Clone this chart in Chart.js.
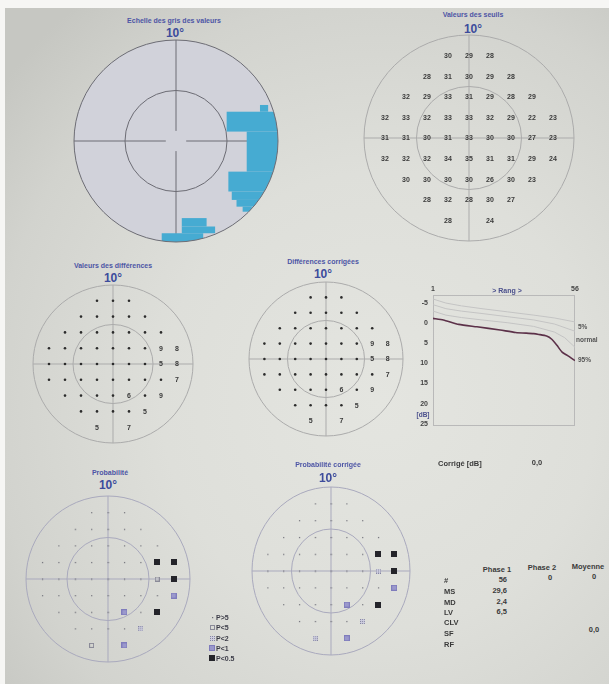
<!DOCTYPE html>
<html lang="fr">
<head>
<meta charset="utf-8">
<title>Champ visuel – Octopus</title>
<script src="https://cdn.jsdelivr.net/npm/chart.js@4.4.1/dist/chart.umd.min.js"></script>
<style>
  html, body { margin: 0; padding: 0; }
  body {
    width: 609px; height: 684px; position: relative; overflow: hidden;
    background: #f6f6f4;
    font-family: "Liberation Sans", Arial, sans-serif;
  }
  #paper {
    position: absolute; left: 5px; top: 8px; width: 604px; height: 676px;
    background: radial-gradient(ellipse 80% 75% at 62% 58%, #e4e5e0 0%, #dedfda 45%, #d2d3ce 80%, #c6c7c2 100%);
  }
  canvas { position: absolute; }
  .lbl { position: absolute; white-space: nowrap; font-weight: bold; line-height: 1; }
</style>
</head>
<body>
<div id="paper"></div>
<script>
// ---------------------------------------------------------------
// Test locations: rows from top to bottom, x/y in degrees
// ---------------------------------------------------------------
const rowY = [24, 18, 12, 6, 0, -6, -12, -18, -24];
const rowX = [
  [-6, 0, 6],
  [-12, -6, 0, 6, 12],
  [-18, -12, -6, 0, 6, 12, 18],
  [-24, -18, -12, -6, 0, 6, 12, 18, 24],
  [-24, -18, -12, -6, 0, 6, 12, 18, 24],
  [-24, -18, -12, -6, 0, 6, 12, 18, 24],
  [-18, -12, -6, 0, 6, 12, 18],
  [-12, -6, 0, 6, 12],
  [-6, 6]
];

// Threshold values [dB]
const thresholds = [
  [30, 29, 28],
  [28, 31, 30, 29, 28],
  [32, 29, 33, 31, 29, 28, 29],
  [32, 33, 32, 33, 33, 32, 29, 22, 23],
  [31, 31, 30, 31, 33, 30, 30, 27, 23],
  [32, 32, 32, 34, 35, 31, 31, 29, 24],
  [30, 30, 30, 30, 26, 30, 23],
  [28, 32, 28, 30, 27],
  [28, 24]
];

// Differences to age norm [dB]; null = within normal limits (printed as a dot)
const differences = [
  [null, null, null],
  [null, null, null, null, null],
  [null, null, null, null, null, null, null],
  [null, null, null, null, null, null, null, 9, 8],
  [null, null, null, null, null, null, null, 5, 8],
  [null, null, null, null, null, null, null, null, 7],
  [null, null, null, null, 6, null, 9],
  [null, null, null, null, 5],
  [5, 7]
];
const correctedDifferences = [
  [null, null, null],
  [null, null, null, null, null],
  [null, null, null, null, null, null, null],
  [null, null, null, null, null, null, null, 9, 8],
  [null, null, null, null, null, null, null, 5, 8],
  [null, null, null, null, null, null, null, null, 7],
  [null, null, null, null, 6, null, 9],
  [null, null, null, null, 5],
  [5, 7]
];

// Probability classes: 0 = P>5, 1 = P<5, 2 = P<2, 3 = P<1, 4 = P<0.5
const probLabels = ['P>5', 'P<5', 'P<2', 'P<1', 'P<0.5'];
const probability = [
  [0, 0, 0],
  [0, 0, 0, 0, 0],
  [0, 0, 0, 0, 0, 0, 0],
  [0, 0, 0, 0, 0, 0, 0, 4, 4],
  [0, 0, 0, 0, 0, 0, 0, 1, 4],
  [0, 0, 0, 0, 0, 0, 0, 0, 3],
  [0, 0, 0, 0, 3, 0, 4],
  [0, 0, 0, 0, 2],
  [1, 3]
];
const correctedProbability = [
  [0, 0, 0],
  [0, 0, 0, 0, 0],
  [0, 0, 0, 0, 0, 0, 0],
  [0, 0, 0, 0, 0, 0, 0, 4, 4],
  [0, 0, 0, 0, 0, 0, 0, 2, 4],
  [0, 0, 0, 0, 0, 0, 0, 0, 3],
  [0, 0, 0, 0, 3, 0, 4],
  [0, 0, 0, 0, 2],
  [2, 3]
];

// Gray-scale map: cells of the depressed band [x0, x1, y0, y1] in degrees
const depressedCells = [
  [24.7, 27.1, 8.7, 10.7],
  [14.9, 30, 2.8, 8.7],
  [20.8, 30, -9.1, 2.8],
  [15.4, 30, -15.0, -9.1],
  [16.4, 27.1, -17.5, -15.0],
  [17.8, 25.7, -19.5, -17.5],
  [19.6, 22.3, -21.0, -19.5],
  [1.7, 9.0, -25.4, -22.9],
  [1.7, 11.5, -27.4, -25.4],
  [-4.2, 8.0, -30, -27.4]
];

// Cumulative defect curve (rank, dB)
const rankTicks = [1, 56];
const dbTicks = [-5, 0, 5, 10, 15, 20, 25];
const curvePatient = [[1, -1.2], [5, -0.8], [11, 0.3], [18, 0.9], [27, 1.7], [33, 2.3], [40, 2.6], [42, 2.8], [45, 3.2], [47, 4.0], [49, 5.5], [51, 7.2], [53, 8.0], [56, 9.3]];
const curve5 = [[1, -6.0], [6, -5.0], [12, -4.3], [20, -3.6], [30, -2.8], [40, -2.0], [48, -1.3], [56, -0.3]];
const curveNormal = [[1, -4.6], [6, -3.6], [12, -3.0], [20, -2.4], [30, -1.6], [40, -0.8], [48, 0.2], [56, 2.0]];
const curve95 = [[1, -3.0], [6, -2.0], [12, -1.4], [20, -0.8], [30, -0.1], [40, 0.8], [48, 2.2], [52, 3.6], [56, 6.0]];

// Summary indices
const statNames = ['#', 'MS', 'MD', 'LV', 'CLV', 'SF', 'RF'];
const phase1 = ['56', '29,6', '2,4', '6,5', '', '', ''];
const phase2 = ['0', '', '', '', '', '', ''];
const moyenne = ['0', '', '', '', '', '0,0', ''];
const correctionDb = '0,0';

// ---------------------------------------------------------------
// Helpers
// ---------------------------------------------------------------
const FONT = '"Liberation Sans", Arial, sans-serif';

function locations(rows) {
  const out = [];
  rows.forEach((r, i) => r.forEach((v, j) => out.push({ x: rowX[i][j], y: rowY[i], v })));
  return out;
}

function text(str, x, y, opt = {}) {
  const d = document.createElement('div');
  d.className = 'lbl';
  d.textContent = str;
  d.style.left = x + 'px';
  d.style.top = y + 'px';
  d.style.fontSize = (opt.size || 7) + 'px';
  d.style.color = opt.color || '#3a3a3a';
  const tx = opt.align === 'left' ? '0' : opt.align === 'right' ? '-100%' : '-50%';
  d.style.transform = `translate(${tx}, -50%)`;
  document.body.appendChild(d);
  return d;
}

// circles, cross-hair, optional fill and gray-scale cells
const fieldPlugin = {
  id: 'field',
  beforeDatasetsDraw(chart, args, o) {
    const { ctx } = chart;
    const xs = chart.scales.x, ys = chart.scales.y;
    const cx = xs.getPixelForValue(0), cy = ys.getPixelForValue(0);
    const rx = xs.getPixelForValue(30) - cx, ry = cy - ys.getPixelForValue(30);
    const ring = (k) => { ctx.beginPath(); ctx.ellipse(cx, cy, rx * k, ry * k, 0, 0, Math.PI * 2); };
    ctx.save();
    if (o.fill) { ring(1); ctx.fillStyle = o.fill; ctx.fill(); }
    ctx.strokeStyle = o.color; ctx.lineWidth = o.width || 1;
    ring(0.5); ctx.stroke();
    const gx = xs.getPixelForValue(o.gap || 0) - cx, gy = cy - ys.getPixelForValue(o.gap || 0);
    ctx.beginPath();
    ctx.moveTo(cx - rx, cy); ctx.lineTo(cx - gx, cy);
    ctx.moveTo(cx + gx, cy); ctx.lineTo(cx + rx, cy);
    ctx.moveTo(cx, cy - ry); ctx.lineTo(cx, cy - gy);
    ctx.moveTo(cx, cy + gy); ctx.lineTo(cx, cy + ry);
    ctx.stroke();
    if (o.cells) {
      ctx.save();
      ring(1); ctx.clip();
      ctx.fillStyle = o.cellColor;
      o.cells.forEach(c => {
        const x0 = xs.getPixelForValue(c[0]), x1 = xs.getPixelForValue(c[1]);
        const y0 = ys.getPixelForValue(c[3]), y1 = ys.getPixelForValue(c[2]);
        ctx.fillRect(x0, y0, x1 - x0, y1 - y0);
      });
      ctx.restore();
    }
    ring(1); ctx.stroke();
    ctx.restore();
  }
};

// prints each point's value at its position
const valueLabels = {
  id: 'valueLabels',
  afterDatasetsDraw(chart) {
    const { ctx } = chart;
    chart.data.datasets.forEach((ds, i) => {
      if (!ds.valueLabels) return;
      const meta = chart.getDatasetMeta(i);
      ctx.save();
      ctx.font = 'bold 7px ' + FONT;
      ctx.fillStyle = ds.labelColor || '#3a3a3a';
      ctx.textAlign = 'center';
      ctx.textBaseline = 'middle';
      meta.data.forEach((el, j) => ctx.fillText(String(ds.data[j].v), el.x, el.y + 0.5));
      ctx.restore();
    });
  }
};

function fieldChart(cx, cy, rx, ry, datasets, field) {
  const pad = 4;
  const c = document.createElement('canvas');
  c.width = Math.round(2 * rx + 2 * pad);
  c.height = Math.round(2 * ry + 2 * pad);
  c.style.left = Math.round(cx - rx - pad) + 'px';
  c.style.top = Math.round(cy - ry - pad) + 'px';
  c.style.width = c.width + 'px';
  c.style.height = c.height + 'px';
  document.body.appendChild(c);
  return new Chart(c, {
    type: 'scatter',
    data: { datasets },
    options: {
      responsive: false, animation: false, events: [],
      layout: { padding: pad },
      plugins: { legend: { display: false }, tooltip: { enabled: false }, field },
      scales: {
        x: { type: 'linear', min: -30, max: 30, display: false },
        y: { type: 'linear', min: -30, max: 30, display: false }
      }
    },
    plugins: [fieldPlugin, valueLabels]
  });
}

// probability symbols
function probSymbol(level) {
  const size = [3, 5, 5, 6, 6][level];
  const c = document.createElement('canvas');
  c.width = c.height = size;
  const g = c.getContext('2d');
  if (level === 0) { g.fillStyle = '#707078'; g.fillRect(1, 1, 1.2, 1.2); }
  if (level === 1) { g.strokeStyle = '#8a8a98'; g.lineWidth = 1; g.strokeRect(0.5, 0.5, size - 1, size - 1); }
  if (level === 2) {
    g.fillStyle = '#cfcfe0'; g.fillRect(0, 0, size, size);
    g.fillStyle = '#8585a0';
    for (let i = 0; i < size; i += 2) for (let j = 0; j < size; j += 2) g.fillRect(i, j, 1, 1);
  }
  if (level === 3) { g.fillStyle = '#7f7cbc'; g.fillRect(0, 0, size, size); g.fillStyle = '#9a98cc'; g.fillRect(1, 1, size - 2, size - 2); }
  if (level === 4) { g.fillStyle = '#24242a'; g.fillRect(0, 0, size, size); }
  return c;
}
const symbols = [0, 1, 2, 3, 4].map(probSymbol);

function probDatasets(rows) {
  const pts = locations(rows);
  return [0, 1, 2, 3, 4].map(k => ({
    data: pts.filter(p => p.v === k),
    pointStyle: symbols[k],
    pointRadius: 3
  }));
}

function diffDatasets(rows) {
  const pts = locations(rows);
  return [
    { data: pts.filter(p => p.v === null), pointRadius: 1.3, pointBackgroundColor: '#2b2b2b', pointBorderWidth: 0 },
    { data: pts.filter(p => p.v !== null), pointRadius: 0.2, pointBorderWidth: 0, pointBackgroundColor: 'rgba(0,0,0,0)', valueLabels: true }
  ];
}

const TITLE = '#4d55a5', DEG = '#3d4c9c';

// ---------------------------------------------------------------
// Gray-scale map
// ---------------------------------------------------------------
text('Echelle des gris des valeurs', 174, 20, { size: 7, color: TITLE });
text('10°', 175, 33, { size: 12, color: DEG });
fieldChart(176, 141, 102, 101, [], {
  color: '#6c6c74', fill: '#d1d2da', gap: 3,
  cells: depressedCells, cellColor: '#46abd2'
});

// ---------------------------------------------------------------
// Threshold values
// ---------------------------------------------------------------
text('Valeurs des seuils', 473, 14, { size: 7, color: TITLE });
text('10°', 473, 29, { size: 12, color: DEG });
fieldChart(469, 137.5, 105, 103, [
  { data: locations(thresholds), pointRadius: 0.2, pointBorderWidth: 0, pointBackgroundColor: 'rgba(0,0,0,0)', valueLabels: true }
], { color: '#ababab' });

// ---------------------------------------------------------------
// Differences
// ---------------------------------------------------------------
text('Valeurs des différences', 113, 265, { size: 7, color: TITLE });
text('10°', 113, 278, { size: 12, color: DEG });
fieldChart(113, 364, 80, 79, diffDatasets(differences), { color: '#ababab' });

text('Différences corrigées', 323, 261, { size: 7, color: TITLE });
text('10°', 323, 274, { size: 12, color: DEG });
fieldChart(326, 359, 77, 77, diffDatasets(correctedDifferences), { color: '#ababab' });

// ---------------------------------------------------------------
// Cumulative defect curve
// ---------------------------------------------------------------
(function () {
  const c = document.createElement('canvas');
  c.width = 178; c.height = 155;
  c.style.left = '405px'; c.style.top = '280px';
  c.style.width = '178px'; c.style.height = '155px';
  document.body.appendChild(c);
  const xy = arr => arr.map(p => ({ x: p[0], y: p[1] }));
  const boxPlugin = {
    id: 'box',
    beforeDatasetsDraw(chart) {
      const { ctx, chartArea: a } = chart;
      ctx.save();
      ctx.strokeStyle = '#b9b9b9'; ctx.lineWidth = 1;
      ctx.strokeRect(Math.round(a.left) + 0.5, Math.round(a.top) + 0.5, Math.round(a.right - a.left) - 1, Math.round(a.bottom - a.top) - 1);
      ctx.restore();
    }
  };
  const tickFont = { family: FONT, size: 7, weight: 'bold' };
  new Chart(c, {
    type: 'scatter',
    data: {
      datasets: [
        { data: xy(curve5), showLine: true, borderColor: '#c4c4c4', borderWidth: 1, pointRadius: 0 },
        { data: xy(curveNormal), showLine: true, borderColor: '#c4c4c4', borderWidth: 1, pointRadius: 0 },
        { data: xy(curve95), showLine: true, borderColor: '#c4c4c4', borderWidth: 1, pointRadius: 0 },
        { data: xy(curvePatient), showLine: true, borderColor: '#5c3149', borderWidth: 1.6, pointRadius: 0, tension: 0.2 }
      ]
    },
    options: {
      responsive: false, animation: false, events: [],
      layout: { padding: { left: 0, top: 0, right: 8, bottom: 6 } },
      plugins: { legend: { display: false }, tooltip: { enabled: false } },
      scales: {
        x: {
          type: 'linear', position: 'top', min: rankTicks[0], max: rankTicks[1],
          grid: { display: false, drawTicks: false }, border: { display: false },
          ticks: { font: tickFont, color: '#444', padding: 2, maxRotation: 0 },
          afterBuildTicks: s => { s.ticks = rankTicks.map(v => ({ value: v })); },
          afterFit: s => { s.height = 15; }
        },
        y: {
          type: 'linear', reverse: true, min: -7, max: 25.5,
          grid: { display: false, drawTicks: false }, border: { display: false },
          ticks: { font: tickFont, color: '#444', padding: 5 },
          afterBuildTicks: s => { s.ticks = dbTicks.map(v => ({ value: v })); },
          afterFit: s => { s.width = 28; }
        }
      }
    },
    plugins: [boxPlugin]
  });
})();
text('> Rang >', 507, 290, { size: 7, color: '#4a4f8c' });
text('[dB]', 423, 415, { size: 6.5, color: '#4a4f8c' });
text('5%', 578, 327, { size: 6.5, color: '#555', align: 'left' });
text('normal', 576, 340, { size: 6.5, color: '#555', align: 'left' });
text('95%', 578, 360, { size: 6.5, color: '#555', align: 'left' });

// ---------------------------------------------------------------
// Probability maps
// ---------------------------------------------------------------
text('Probabilité', 110, 472, { size: 7, color: TITLE });
text('10°', 108, 485, { size: 12, color: DEG });
fieldChart(108, 579, 83, 84, probDatasets(probability), { color: '#a9a9bd' });

text('Probabilité corrigée', 328, 464, { size: 7, color: TITLE });
text('10°', 328, 478, { size: 12, color: DEG });
fieldChart(331, 571, 80, 85, probDatasets(correctedProbability), { color: '#a9a9bd' });

// legend
const legendY = [617, 627, 638, 648, 658];
probLabels.forEach((lab, k) => {
  const s = probSymbol(k);
  s.style.left = Math.round(212 - s.width / 2) + 'px';
  s.style.top = Math.round(legendY[k] - s.height / 2) + 'px';
  document.body.appendChild(s);
  text(lab, 216, legendY[k], { size: 7, color: '#3c3c48', align: 'left' });
});

// ---------------------------------------------------------------
// Summary table
// ---------------------------------------------------------------
text('Corrigé [dB]', 438, 464, { size: 7.5, align: 'left' });
text(correctionDb, 537, 463, { size: 7.5 });
text('Phase 1', 497, 570, { size: 7.5 });
text('Phase 2', 542, 568, { size: 7.5 });
text('Moyenne', 588, 567, { size: 7.5 });
const rowYs = [581, 592, 603, 613, 623, 634, 645];
statNames.forEach((n, i) => {
  const y = rowYs[i];
  text(n, 444, y, { size: 7.5, align: 'left' });
  if (phase1[i]) text(phase1[i], 507, y - 1, { size: 7.5, align: 'right' });
  if (phase2[i]) text(phase2[i], 550, y - 3, { size: 7.5 });
  if (moyenne[i]) text(moyenne[i], 594, y - 4, { size: 7.5 });
});
</script>
</body>
</html>
